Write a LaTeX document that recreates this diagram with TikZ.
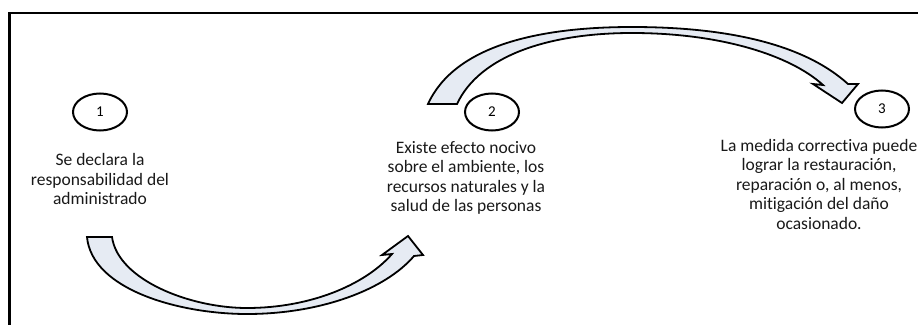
\documentclass[tikz,border=0pt]{standalone}
\usepackage{fontspec}
\setmainfont{Carlito}[Ligatures=NoCommon]
\usetikzlibrary{shapes.geometric,positioning}
\definecolor{bandfill}{RGB}{230,235,243}
\tikzset{
    stage/.style = {ellipse,
                    draw=black,
                    line width=2pt,
                    minimum width=54pt,
                    minimum height=37pt,
                    inner sep=0pt,
                    font=\fontsize{15}{17}\selectfont},
    caption/.style = {align=center,
                    text=black!90,
                    inner sep=0pt,
                    font=\fontsize{17.5}{19.5}\selectfont},
    band/.style = {fill=bandfill,
                    draw=black,
                    line width=1.8pt,
                    line join=miter},
    frame/.style = {draw=black,
                    line width=2.6pt}}

\begin{document}
\begin{tikzpicture}[x=1pt,y=-1pt]
    \useasboundingbox (0,0) rectangle (918,324);
    \clip (0,0) rectangle (918,324);
    \draw[frame] (9.5,340) -- (9.5,13) -- (940,13);
    % the three stages
    \node[stage]   (S1) at (100,112) {1};
    \node[stage]   (S2) at (492,112) {2};
    \node[stage]   (S3) at (882,109) {3};
    \node[caption] (T1) at (100,179) {Se declara la\\responsabilidad del\\administrado};
    \node[caption] (T2) at (466,178) {Existe efecto nocivo\\sobre el ambiente, los\\recursos naturales y la\\salud de las personas};
    \node[caption] (T3) at (819,184) {La medida correctiva puede\\lograr la restauraci\'on,\\reparaci\'on o, al menos,\\mitigaci\'on del da\~no\\ocasionado.};
    % lower block arrow, 1 to 2
    \path[band] (87,237) -- (112,237)
        .. controls (118,280) and (190,308) .. (247,308)
        .. controls (310,308) and (365,285) .. (392,254)
        -- (382,255) -- (408,236) -- (423,255) -- (414,256)
        .. controls (385,290) and (320,314) .. (247,314)
        .. controls (180,314) and (92,290) .. (87,237) -- cycle;
    % upper block arrow, 2 to 3
    \path[band] (428,104) -- (457,104)
        .. controls (480,55) and (550,33) .. (632,33)
        .. controls (720,33) and (790,55) .. (823,85)
        -- (813,84) -- (842,103) -- (858,84) -- (848,84)
        .. controls (805,45) and (730,27) .. (632,27)
        .. controls (540,27) and (455,45) .. (428,104) -- cycle;
\end{tikzpicture}
\end{document}
